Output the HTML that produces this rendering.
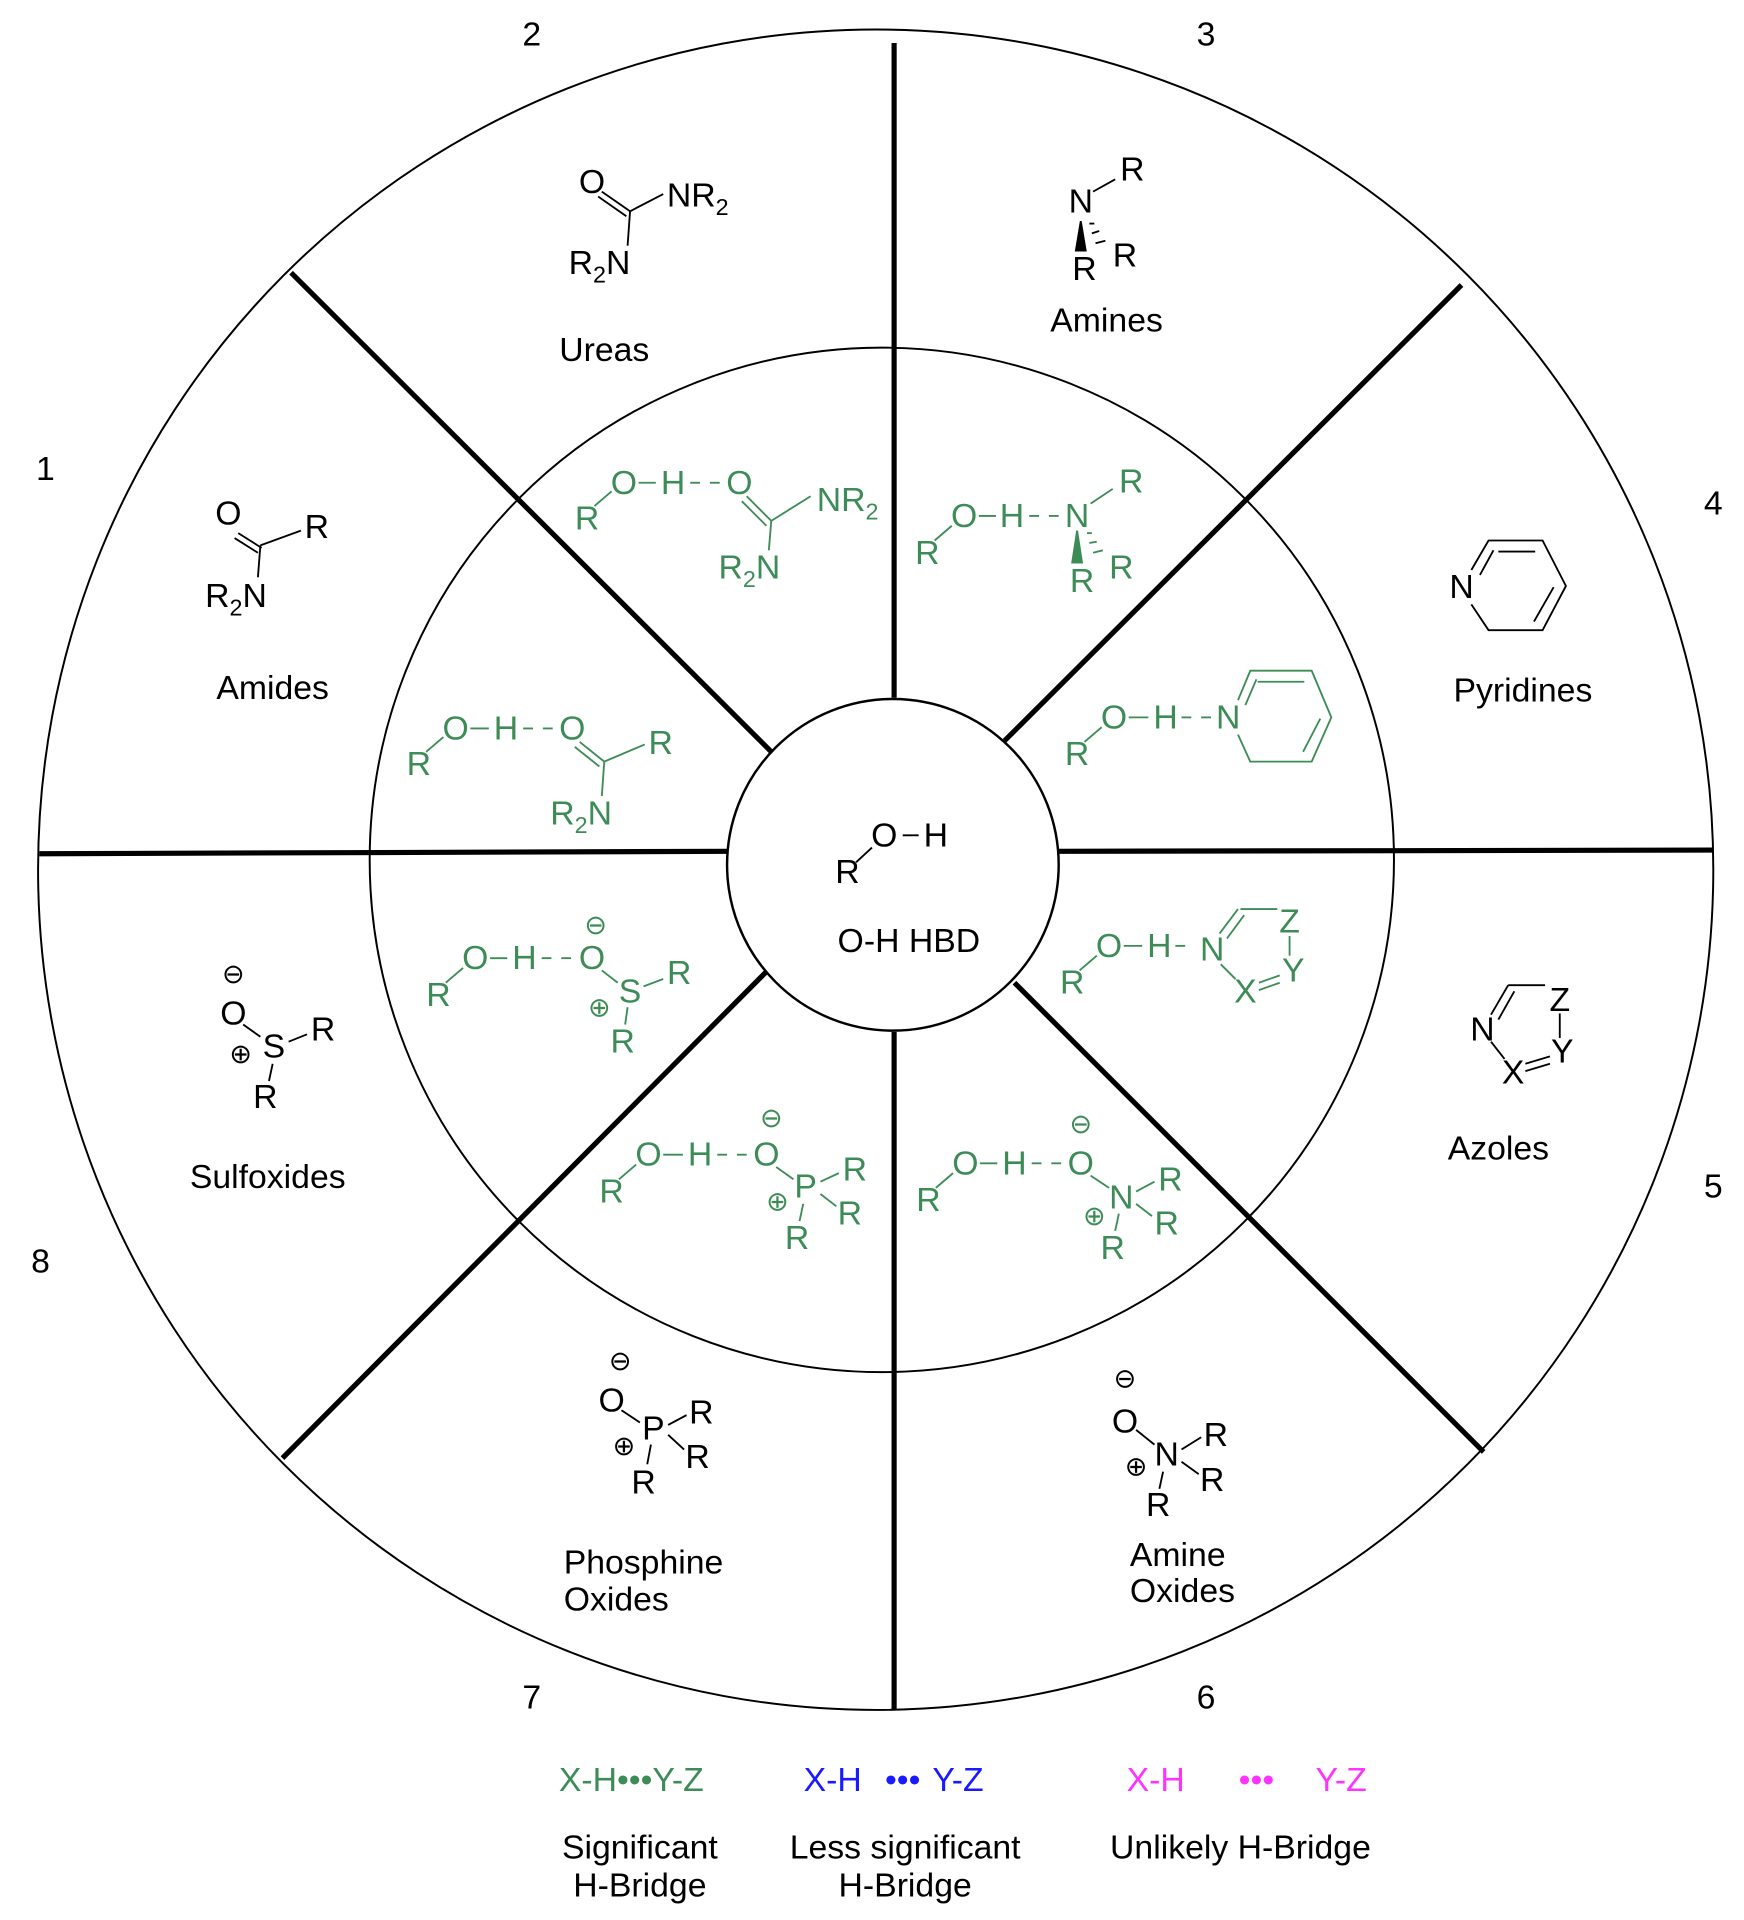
<!DOCTYPE html>
<html><head><meta charset="utf-8"><style>
html,body{margin:0;padding:0;background:#fff;}
svg{display:block;}
text{font-family:"Liberation Sans",Arial,sans-serif;font-size:27.5px;}
.a{text-anchor:middle;dominant-baseline:central;}
.g text{fill:#3d8c57;}
.g line,.g polygon,.g polyline{stroke:#3d8c57;}
.s{font-size:19px;}
.c{font-size:22px;}
</style></head><body>
<svg width="1744" height="1920" viewBox="0 0 1420 1563" preserveAspectRatio="none" xmlns="http://www.w3.org/2000/svg">
<rect width="1420" height="1563" fill="#fff"/>
<g fill="none" stroke="#000">
<ellipse cx="713" cy="708" rx="682" ry="684" stroke-width="1.6"/>
<ellipse cx="718" cy="700" rx="417" ry="417" stroke-width="1.6"/>
<g stroke-width="4.2">
<line x1="728" y1="35" x2="728" y2="568"/>
<line x1="728" y1="840" x2="728" y2="1392"/>
<line x1="32" y1="695" x2="592" y2="693"/>
<line x1="862" y1="693" x2="1395" y2="692"/>
<line x1="237" y1="222" x2="628" y2="612"/>
<line x1="1190" y1="232" x2="818" y2="603"/>
<line x1="230" y1="1187" x2="625" y2="790"/>
<line x1="826" y1="800" x2="1208" y2="1182"/>
</g>
<circle cx="727" cy="704" r="135" fill="#fff" stroke-width="2"/>
</g>

<g>
<text x="433" y="28" class="a">2</text><text x="982" y="28" class="a">3</text>
<text x="37" y="382" class="a">1</text><text x="1395" y="410" class="a">4</text>
<text x="1395" y="966" class="a">5</text><text x="982" y="1382" class="a">6</text>
<text x="433" y="1382" class="a">7</text><text x="33" y="1027" class="a">8</text>
</g>

<text x="690" y="710" class="a">R</text><text x="720" y="680" class="a">O</text><text x="762" y="680" class="a">H</text>
<line x1="697" y1="702" x2="710" y2="690" stroke="#000" stroke-width="1.5"/>
<line x1="735" y1="680" x2="748" y2="680" stroke="#000" stroke-width="1.5"/>
<text x="740" y="766" class="a">O-H HBD</text>

<g stroke="#000" stroke-width="1.5" fill="none">
<line x1="490" y1="156" x2="513" y2="172"/><line x1="487" y1="160" x2="510" y2="176"/>
<line x1="513" y1="172" x2="540" y2="158"/><line x1="513" y1="172" x2="511" y2="200"/>
<line x1="890" y1="156" x2="908" y2="146"/>
<polygon points="880,180 876,204 884,204" fill="#000"/>
<line x1="887" y1="182" x2="891" y2="182"/><line x1="889" y1="190" x2="895" y2="188"/><line x1="892" y1="198" x2="900" y2="196"/>
<line x1="194" y1="434" x2="213" y2="446"/><line x1="191" y1="438" x2="210" y2="450"/>
<line x1="212" y1="444" x2="245" y2="432"/><line x1="212" y1="444" x2="210" y2="470"/>
<polyline points="1198,464 1212,440 1256,440 1275,477 1256,513 1212,513 1198,492"/>
<line x1="1220" y1="449" x2="1250" y2="449"/><line x1="1265" y1="478" x2="1249" y2="506"/><line x1="1205" y1="468" x2="1216" y2="448"/>
<line x1="1214" y1="826" x2="1228" y2="802"/><line x1="1220" y1="830" x2="1233" y2="807"/>
<line x1="1228" y1="802" x2="1258" y2="802"/><line x1="1270" y1="825" x2="1270" y2="845"/>
<line x1="1214" y1="848" x2="1225" y2="862"/><line x1="1242" y1="866" x2="1262" y2="860"/><line x1="1242" y1="872" x2="1262" y2="866"/>
<line x1="198" y1="834" x2="212" y2="844"/><line x1="235" y1="848" x2="250" y2="842"/><line x1="222" y1="866" x2="219" y2="880"/>
<line x1="506" y1="1148" x2="521" y2="1158"/><line x1="544" y1="1160" x2="559" y2="1152"/><line x1="544" y1="1168" x2="557" y2="1180"/><line x1="530" y1="1176" x2="527" y2="1192"/>
<line x1="925" y1="1164" x2="940" y2="1176"/><line x1="962" y1="1180" x2="978" y2="1170"/><line x1="962" y1="1190" x2="976" y2="1200"/><line x1="947" y1="1198" x2="944" y2="1212"/>
</g>
<g>
<text x="482" y="148" class="a">O</text>
<text x="543" y="168">NR<tspan class="s" dy="7">2</tspan></text>
<text x="463" y="223">R<tspan class="s" dy="7">2</tspan><tspan dy="-7">N</tspan></text>
<text x="492" y="285" class="a">Ureas</text>
<text x="880" y="164" class="a">N</text><text x="922" y="138" class="a">R</text>
<text x="883" y="219" class="a">R</text><text x="916" y="208" class="a">R</text>
<text x="901" y="261" class="a">Amines</text>
<text x="186" y="418" class="a">O</text><text x="258" y="429" class="a">R</text>
<text x="167" y="494">R<tspan class="s" dy="7">2</tspan><tspan dy="-7">N</tspan></text>
<text x="222" y="560" class="a">Amides</text>
<text x="1190" y="478" class="a">N</text>
<text x="1240" y="562" class="a">Pyridines</text>
<text x="1207" y="838" class="a">N</text><text x="1232" y="873" class="a">X</text><text x="1272" y="856" class="a">Y</text><text x="1270" y="814" class="a">Z</text>
<text x="1220" y="935" class="a">Azoles</text>
<text x="190" y="793" class="a c">⊖</text><text x="190" y="825" class="a">O</text><text x="223" y="852" class="a">S</text>
<text x="263" y="838" class="a">R</text><text x="216" y="893" class="a">R</text><text x="196" y="858" class="a c">⊕</text>
<text x="218" y="958" class="a">Sulfoxides</text>
<text x="505" y="1108" class="a c">⊖</text><text x="498" y="1140" class="a">O</text><text x="532" y="1163" class="a">P</text>
<text x="571" y="1150" class="a">R</text><text x="568" y="1186" class="a">R</text><text x="524" y="1207" class="a">R</text><text x="508" y="1177" class="a c">⊕</text>
<text x="459" y="1281">Phosphine</text><text x="459" y="1311">Oxides</text>
<text x="916" y="1122" class="a c">⊖</text><text x="916" y="1157" class="a">O</text><text x="950" y="1184" class="a">N</text>
<text x="990" y="1168" class="a">R</text><text x="987" y="1205" class="a">R</text><text x="943" y="1225" class="a">R</text><text x="925" y="1194" class="a c">⊕</text>
<text x="920" y="1275">Amine</text><text x="920" y="1304">Oxides</text>
</g>

<g class="g" stroke-width="1.5" fill="none">
<line x1="484" y1="412" x2="498" y2="400"/><line x1="520" y1="393" x2="534" y2="393"/><line x1="562" y1="393" x2="570" y2="393"/><line x1="578" y1="393" x2="586" y2="393"/>
<line x1="608" y1="404" x2="628" y2="424"/><line x1="604" y1="408" x2="624" y2="428"/><line x1="628" y1="424" x2="660" y2="404"/><line x1="628" y1="424" x2="626" y2="448"/>
<text x="478" y="422" class="a">R</text><text x="508" y="393" class="a">O</text><text x="548" y="393" class="a">H</text><text x="602" y="393" class="a">O</text>
<text x="665" y="416">NR<tspan class="s" dy="7">2</tspan></text>
<text x="585" y="471">R<tspan class="s" dy="7">2</tspan><tspan dy="-7">N</tspan></text>
<line x1="761" y1="440" x2="775" y2="428"/><line x1="797" y1="420" x2="811" y2="420"/><line x1="838" y1="420" x2="846" y2="420"/><line x1="854" y1="420" x2="862" y2="420"/>
<line x1="888" y1="410" x2="906" y2="398"/>
<polygon points="877,432 873,458 881,458" fill="#3d8c57"/>
<line x1="885" y1="434" x2="889" y2="434"/><line x1="887" y1="442" x2="893" y2="441"/><line x1="890" y1="450" x2="898" y2="448"/>
<text x="755" y="450" class="a">R</text><text x="785" y="420" class="a">O</text><text x="824" y="420" class="a">H</text><text x="877" y="420" class="a">N</text>
<text x="921" y="392" class="a">R</text><text x="881" y="473" class="a">R</text><text x="913" y="462" class="a">R</text>
<line x1="347" y1="612" x2="361" y2="600"/><line x1="383" y1="593" x2="398" y2="593"/><line x1="426" y1="593" x2="434" y2="593"/><line x1="442" y1="593" x2="450" y2="593"/>
<line x1="472" y1="604" x2="492" y2="620"/><line x1="468" y1="608" x2="488" y2="624"/><line x1="492" y1="620" x2="525" y2="606"/><line x1="492" y1="620" x2="490" y2="648"/>
<text x="341" y="622" class="a">R</text><text x="371" y="593" class="a">O</text><text x="412" y="593" class="a">H</text><text x="466" y="593" class="a">O</text>
<text x="538" y="605" class="a">R</text>
<text x="448" y="671">R<tspan class="s" dy="7">2</tspan><tspan dy="-7">N</tspan></text>
<line x1="883" y1="604" x2="897" y2="592"/><line x1="919" y1="584" x2="935" y2="584"/><line x1="962" y1="584" x2="970" y2="584"/><line x1="978" y1="584" x2="986" y2="584"/>
<polyline points="1008,570 1018,546 1068,546 1084,584 1068,620 1018,620 1008,598"/>
<line x1="1024" y1="555" x2="1062" y2="555"/><line x1="1075" y1="585" x2="1061" y2="612"/><line x1="1014" y1="574" x2="1023" y2="553"/>
<text x="877" y="614" class="a">R</text><text x="907" y="584" class="a">O</text><text x="949" y="584" class="a">H</text><text x="1000" y="584" class="a">N</text>
<line x1="879" y1="790" x2="893" y2="778"/><line x1="915" y1="770" x2="930" y2="770"/><line x1="957" y1="770" x2="965" y2="770"/>
<line x1="993" y1="760" x2="1008" y2="740"/><line x1="999" y1="764" x2="1013" y2="745"/><line x1="1010" y1="740" x2="1040" y2="740"/><line x1="1050" y1="762" x2="1050" y2="778"/>
<line x1="994" y1="785" x2="1006" y2="797"/><line x1="1025" y1="800" x2="1042" y2="794"/><line x1="1025" y1="806" x2="1042" y2="800"/>
<text x="873" y="800" class="a">R</text><text x="903" y="770" class="a">O</text><text x="944" y="770" class="a">H</text><text x="987" y="773" class="a">N</text>
<text x="1014" y="807" class="a">X</text><text x="1053" y="790" class="a">Y</text><text x="1050" y="750" class="a">Z</text>
<line x1="363" y1="800" x2="377" y2="788"/><line x1="399" y1="780" x2="413" y2="780"/><line x1="441" y1="780" x2="449" y2="780"/><line x1="457" y1="780" x2="465" y2="780"/>
<line x1="490" y1="790" x2="503" y2="800"/><line x1="524" y1="803" x2="540" y2="797"/><line x1="511" y1="820" x2="509" y2="834"/>
<text x="357" y="810" class="a">R</text><text x="387" y="780" class="a">O</text><text x="427" y="780" class="a">H</text><text x="482" y="780" class="a">O</text>
<text x="485" y="753" class="a c">⊖</text><text x="513" y="807" class="a">S</text><text x="553" y="792" class="a">R</text><text x="507" y="848" class="a">R</text><text x="488" y="820" class="a c">⊕</text>
<line x1="504" y1="960" x2="518" y2="948"/><line x1="540" y1="940" x2="556" y2="940"/><line x1="584" y1="940" x2="592" y2="940"/><line x1="600" y1="940" x2="608" y2="940"/>
<line x1="632" y1="950" x2="646" y2="960"/><line x1="668" y1="962" x2="683" y2="955"/><line x1="668" y1="972" x2="681" y2="982"/><line x1="654" y1="980" x2="651" y2="994"/>
<text x="498" y="970" class="a">R</text><text x="528" y="940" class="a">O</text><text x="570" y="940" class="a">H</text><text x="624" y="940" class="a">O</text>
<text x="628" y="910" class="a c">⊖</text><text x="656" y="966" class="a">P</text><text x="696" y="952" class="a">R</text><text x="692" y="988" class="a">R</text><text x="649" y="1008" class="a">R</text><text x="633" y="978" class="a c">⊕</text>
<line x1="762" y1="967" x2="776" y2="955"/><line x1="798" y1="947" x2="812" y2="947"/><line x1="840" y1="947" x2="848" y2="947"/><line x1="856" y1="947" x2="864" y2="947"/>
<line x1="888" y1="957" x2="903" y2="967"/><line x1="925" y1="970" x2="940" y2="962"/><line x1="925" y1="980" x2="938" y2="990"/><line x1="911" y1="988" x2="908" y2="1002"/>
<text x="756" y="977" class="a">R</text><text x="786" y="947" class="a">O</text><text x="826" y="947" class="a">H</text><text x="880" y="947" class="a">O</text>
<text x="880" y="915" class="a c">⊖</text><text x="913" y="975" class="a">N</text><text x="953" y="960" class="a">R</text><text x="950" y="996" class="a">R</text><text x="906" y="1016" class="a">R</text><text x="891" y="990" class="a c">⊕</text>
</g>

<text x="514" y="1449" class="a" fill="#3d8c57">X-H•••Y-Z</text>
<text x="678" y="1449" class="a" fill="#1a1aff">X-H</text><text x="735" y="1449" class="a" fill="#1a1aff">•••</text><text x="780" y="1449" class="a" fill="#1a1aff">Y-Z</text>
<text x="941" y="1449" class="a" fill="#ff33ff">X-H</text><text x="1023" y="1449" class="a" fill="#ff33ff">•••</text><text x="1092" y="1449" class="a" fill="#ff33ff">Y-Z</text>
<text x="521" y="1504" class="a">Significant</text><text x="521" y="1535" class="a">H-Bridge</text>
<text x="737" y="1504" class="a">Less significant</text><text x="737" y="1535" class="a">H-Bridge</text>
<text x="1010" y="1504" class="a">Unlikely H-Bridge</text>
</svg>
</body></html>
